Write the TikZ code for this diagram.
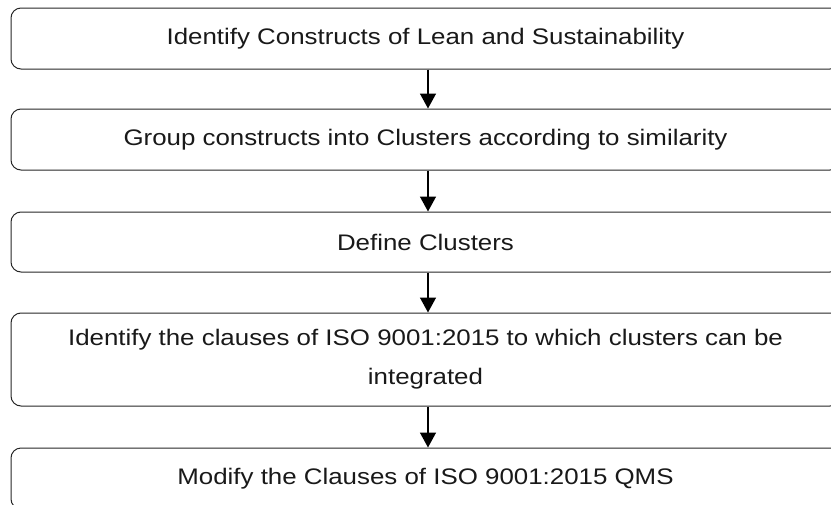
\documentclass[tikz,border=0pt]{standalone}
\usepackage{fontspec}
\setmainfont[FakeStretch=1.15]{Liberation Sans}
\usetikzlibrary{arrows.meta}
\begin{document}
\begin{tikzpicture}[x=1pt,y=1pt,
  stepbox/.style={draw=black!85, line width=1pt, rounded corners=10pt,
    minimum width=829pt, inner sep=0pt, align=center, font=\fontsize{22.5}{39}\selectfont, text=black!90},
  flow/.style={draw=black, line width=1.5pt, -{Triangle[width=16pt,length=15pt]}, shorten >=0pt}]
\useasboundingbox (0,0) rectangle (831,-504);
\clip (0,0) rectangle (831,-504);
\node[stepbox, minimum height=61pt] (b1) at (425.5,-38.5) {Identify Constructs of Lean and Sustainability};
\node[stepbox, minimum height=61pt] (b2) at (425.5,-139.5) {Group constructs into Clusters according to similarity};
\node[stepbox, minimum height=60pt] (b3) at (425.5,-242) {Define Clusters};
\node[stepbox, minimum height=93pt] (b4) at (425.5,-359.5) {Identify the clauses of ISO 9001:2015 to which clusters can be\\integrated};
\node[stepbox, minimum height=61pt] (b5) at (425.5,-478.5) {Modify the Clauses of ISO 9001:2015 QMS};
\draw[flow] ([xshift=2.5pt]b1.south) -- ([xshift=2.5pt]b2.north);
\draw[flow] ([xshift=2.5pt]b2.south) -- ([xshift=2.5pt]b3.north);
\draw[flow] ([xshift=2.5pt]b3.south) -- ([xshift=2.5pt]b4.north);
\draw[flow] ([xshift=2.5pt]b4.south) -- ([xshift=2.5pt]b5.north);
\end{tikzpicture}
\end{document}
